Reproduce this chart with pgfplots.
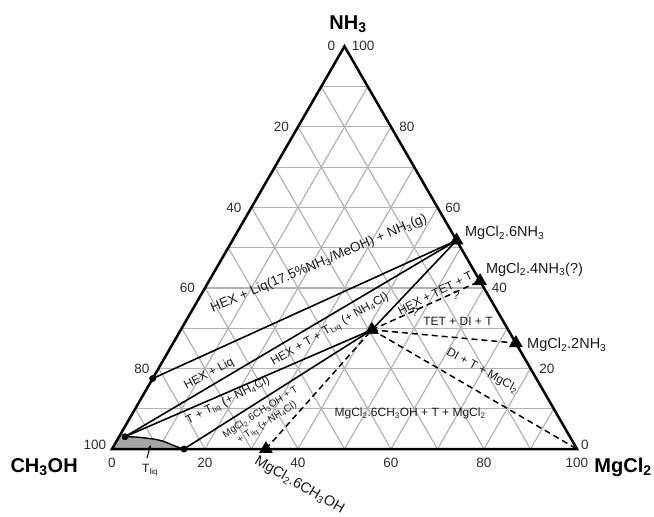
\documentclass[border=0pt]{standalone}
\usepackage{pgfplots}
\pgfplotsset{compat=1.18}
\usepackage{pgfplotstable}
\usepackage{fontspec}
\setmainfont{Liberation Sans}
\usetikzlibrary{arrows.meta}

\definecolor{gridc}{RGB}{178,178,178}
\definecolor{tickc}{RGB}{45,45,45}
\definecolor{fillc}{RGB}{165,165,165}
\definecolor{txt}{RGB}{25,25,25}

% ternary data: M = MgCl2 wt%, N = NH3 wt% (CH3OH = 100 - M - N)
\pgfplotstableread{
M N
48.2 51.8
58.3 41.7
73.7 26.3
33.1 0
41.1 29.6
}\tripts
\pgfplotstableread{
M N
0 17.5
1.27 3.05
15.48 0
}\dotpts
\pgfplotstableread{
M N
1.27 3.05
3.46 2.98
5.74 2.73
8.05 2.41
10.09 1.91
12.31 1.07
14.05 0.42
15.48 0
}\tliq
\pgfplotstableread{
M N
0 0
0 3.05
1.27 3.05
3.46 2.98
5.74 2.73
8.05 2.41
10.09 1.91
12.31 1.07
14.05 0.42
15.48 0
}\tliqfill

\tikzset{
  tl/.style={font=\fontsize{13.5}{16}\selectfont, text=tickc, inner sep=0pt},
  vl/.style={font=\bfseries\fontsize{20}{24}\selectfont, text=black, inner sep=0pt},
  cl/.style={font=\fontsize{14.5}{17}\selectfont, text=txt, inner sep=0pt},
  rl/.style={font=\fontsize{12}{14}\selectfont, text=txt, inner sep=0pt},
  gl/.style={gridc, line width=1.2pt},
}

\begin{document}
\begin{tikzpicture}
\begin{axis}[
  scale only axis, width=654pt, height=517pt,
  xmin=-24.086, xmax=116.56, ymin=-16.886, ymax=111.50,
  hide axis, clip=false,
]
\coordinate (SW) at (rel axis cs:0,0);
\coordinate (NE) at (rel axis cs:1,1);
% grid (x = M + N/2, y = N)
\draw[gl] (axis cs:5,10)--(axis cs:95,10);
\draw[gl] (axis cs:10,20)--(axis cs:90,20);
\draw[gl] (axis cs:15,30)--(axis cs:85,30);
\draw[gl] (axis cs:20,40)--(axis cs:80,40);
\draw[gl] (axis cs:25,50)--(axis cs:75,50);
\draw[gl] (axis cs:30,60)--(axis cs:70,60);
\draw[gl] (axis cs:35,70)--(axis cs:65,70);
\draw[gl] (axis cs:40,80)--(axis cs:60,80);
\draw[gl] (axis cs:45,90)--(axis cs:55,90);
\draw[gl] (axis cs:10,0)--(axis cs:55,90);
\draw[gl] (axis cs:20,0)--(axis cs:60,80);
\draw[gl] (axis cs:30,0)--(axis cs:65,70);
\draw[gl] (axis cs:40,0)--(axis cs:70,60);
\draw[gl] (axis cs:50,0)--(axis cs:75,50);
\draw[gl] (axis cs:60,0)--(axis cs:80,40);
\draw[gl] (axis cs:70,0)--(axis cs:85,30);
\draw[gl] (axis cs:80,0)--(axis cs:90,20);
\draw[gl] (axis cs:90,0)--(axis cs:95,10);
\draw[gl] (axis cs:90,0)--(axis cs:45,90);
\draw[gl] (axis cs:80,0)--(axis cs:40,80);
\draw[gl] (axis cs:70,0)--(axis cs:35,70);
\draw[gl] (axis cs:60,0)--(axis cs:30,60);
\draw[gl] (axis cs:50,0)--(axis cs:25,50);
\draw[gl] (axis cs:40,0)--(axis cs:20,40);
\draw[gl] (axis cs:30,0)--(axis cs:15,30);
\draw[gl] (axis cs:20,0)--(axis cs:10,20);
\draw[gl] (axis cs:10,0)--(axis cs:5,10);

% gray T_liq region
\addplot[fill=fillc, draw=none] table[x expr=\thisrow{M}+0.5*\thisrow{N}, y=N] {\tliqfill};
\addplot[black, line width=1.4pt, smooth] table[x expr=\thisrow{M}+0.5*\thisrow{N}, y=N] {\tliq};

% triangle frame
\draw[black, line width=2.5pt, line join=miter] (axis cs:0,0) -- (axis cs:100,0) -- (axis cs:50,100) -- cycle;

% solid tie lines
\addplot[black, line width=1.6pt] table[x expr=\thisrow{M}+0.5*\thisrow{N}, y=N, row sep=\\] {M N\\ 0 17.5\\ 48.2 51.8\\};
\addplot[black, line width=1.6pt] table[x expr=\thisrow{M}+0.5*\thisrow{N}, y=N, row sep=\\] {M N\\ 1.27 3.05\\ 48.2 51.8\\};
\addplot[black, line width=1.6pt] table[x expr=\thisrow{M}+0.5*\thisrow{N}, y=N, row sep=\\] {M N\\ 1.27 3.05\\ 41.1 29.6\\};
\addplot[black, line width=1.6pt] table[x expr=\thisrow{M}+0.5*\thisrow{N}, y=N, row sep=\\] {M N\\ 15.48 0\\ 41.1 29.6\\};
\addplot[black, line width=1.6pt] table[x expr=\thisrow{M}+0.5*\thisrow{N}, y=N, row sep=\\] {M N\\ 41.1 29.6\\ 48.2 51.8\\};
% dashed tie lines
\addplot[black, line width=1.5pt, dash pattern=on 6pt off 4pt] table[x expr=\thisrow{M}+0.5*\thisrow{N}, y=N, row sep=\\] {M N\\ 33.1 0\\ 41.1 29.6\\};
\addplot[black, line width=1.5pt, dash pattern=on 6pt off 4pt] table[x expr=\thisrow{M}+0.5*\thisrow{N}, y=N, row sep=\\] {M N\\ 41.1 29.6\\ 58.3 41.7\\};
\addplot[black, line width=1.5pt, dash pattern=on 6pt off 4pt] table[x expr=\thisrow{M}+0.5*\thisrow{N}, y=N, row sep=\\] {M N\\ 41.1 29.6\\ 73.7 26.3\\};
\addplot[black, line width=1.5pt, dash pattern=on 6pt off 4pt] table[x expr=\thisrow{M}+0.5*\thisrow{N}, y=N, row sep=\\] {M N\\ 41.1 29.6\\ 100 0\\};

% markers
\addplot[only marks, mark=triangle*, mark size=7.5pt, mark options={fill=black, draw=black}] table[x expr=\thisrow{M}+0.5*\thisrow{N}, y=N] {\tripts};
\addplot[only marks, mark=*, mark size=3.2pt, mark options={fill=black, draw=black}] table[x expr=\thisrow{M}+0.5*\thisrow{N}, y=N] {\dotpts};

% tick labels bottom (MgCl2)
\node[tl] at (axis cs:0,-3.5) {0};
\node[tl] at (axis cs:20,-3.5) {20};
\node[tl] at (axis cs:40,-3.5) {40};
\node[tl] at (axis cs:60,-3.5) {60};
\node[tl] at (axis cs:80,-3.5) {80};
\node[tl] at (axis cs:100,-3.5) {100};
% left (CH3OH)
\node[tl] at (axis cs:-3.7,1.0) {100};
\node[tl] at (axis cs:6.4,20) {80};
\node[tl] at (axis cs:16.2,40) {60};
\node[tl] at (axis cs:26.2,60) {40};
\node[tl] at (axis cs:36.4,80) {20};
\node[tl] at (axis cs:47.2,100) {0};
% right (NH3)
\node[tl] at (axis cs:101.7,1.0) {0};
\node[tl] at (axis cs:93.5,20) {20};
\node[tl] at (axis cs:83.3,40) {40};
\node[tl] at (axis cs:73.3,60) {60};
\node[tl] at (axis cs:63.4,80) {80};
\node[tl] at (axis cs:54.0,100) {100};

% vertex labels
\node[vl] at (axis cs:50.75,105.5) {NH\textsubscript{3}};
\node[vl] at (axis cs:-14.6,-4.5) {CH\textsubscript{3}OH};
\node[vl] at (axis cs:109.9,-4.5) {MgCl\textsubscript{2}};

% compound labels
\node[cl, anchor=west] at (axis cs:75.9,53.6) {MgCl\textsubscript{2}.6NH\textsubscript{3}};
\node[cl, anchor=west] at (axis cs:80.4,44.45) {MgCl\textsubscript{2}.4NH\textsubscript{3}(?)};
\node[cl, anchor=west] at (axis cs:89.25,25.8) {MgCl\textsubscript{2}.2NH\textsubscript{3}};
\node[cl, rotate=-30] at (axis cs:40.3,-9.0) {MgCl\textsubscript{2}.6CH\textsubscript{3}OH};

% region labels
\node[rl, rotate=23, font=\fontsize{13.5}{16}\selectfont] at (axis cs:44.5,46.0) {HEX + Liq(17.5\%NH\textsubscript{3}/MeOH) + NH\textsubscript{3}(g)};
\node[rl, rotate=28] at (axis cs:20.9,18.6) {HEX + Liq};
\node[rl, rotate=30] at (axis cs:46.9,29.55) {HEX + T + T\textsubscript{Liq} (+ NH\textsubscript{4}Cl)};
\node[rl, rotate=27] at (axis cs:25.0,11.9) {T + T\textsubscript{liq} (+ NH\textsubscript{4}Cl)};
\node[rl, rotate=33, align=center, font=\fontsize{10}{12}\selectfont] at (axis cs:32.7,7.7) {MgCl\textsubscript{2}.6CH\textsubscript{3}OH + T\\+ T\textsubscript{liq} (+ NH\textsubscript{4}Cl)};
\node[rl, rotate=27] at (axis cs:69.5,38.7) {HEX + TET + T};
\node[rl] at (axis cs:65.2,34.0) {?};
\node[rl] at (axis cs:74.0,38.2) {?};
\node[rl] at (axis cs:74.4,31.8) {TET + DI + T};
\node[rl, rotate=-29] at (axis cs:79.6,19.4) {DI + T + MgCl\textsubscript{2}};
\node[rl] at (axis cs:64.1,8.9) {MgCl\textsubscript{2}.6CH\textsubscript{3}OH + T + MgCl\textsubscript{2}};
\node[rl] at (axis cs:8.2,-5.2) {T\textsubscript{liq}};
\draw[-{Stealth[length=5pt,width=4pt]}, black, line width=1pt] (axis cs:7.5,-2.3) -- (axis cs:8.3,1.0);
\end{axis}
\pgfresetboundingbox
\path[use as bounding box] (SW) rectangle (NE);
\end{tikzpicture}
\end{document}
